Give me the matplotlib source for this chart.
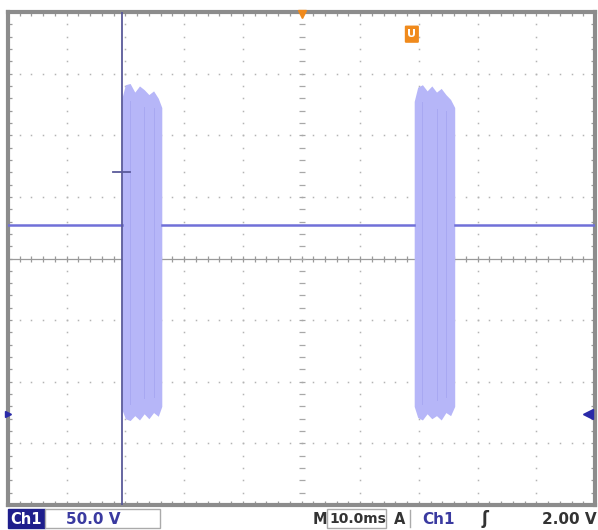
import matplotlib
matplotlib.use("Agg")
import matplotlib.pyplot as plt
import numpy as np
from matplotlib.patches import Rectangle, FancyBboxPatch

# ---- data (divisions) ----
baseline_t = [0.0, 1.94, np.nan, 2.62, 6.92, np.nan, 7.61, 10.0]
baseline_v = [0.55, 0.55, np.nan, 0.55, 0.55, np.nan, 0.55, 0.55]

burst1_t = [1.94, 2.00, 2.08, 2.16, 2.24, 2.32, 2.40, 2.48, 2.56, 2.62]
burst1_hi = [2.60, 2.82, 2.84, 2.70, 2.80, 2.74, 2.66, 2.72, 2.60, 2.45]
burst1_lo = [-2.45, -2.60, -2.63, -2.55, -2.62, -2.52, -2.60, -2.50, -2.56, -2.40]

burst2_t = [6.92, 6.98, 7.06, 7.14, 7.22, 7.30, 7.38, 7.46, 7.54, 7.61]
burst2_hi = [2.55, 2.78, 2.82, 2.72, 2.80, 2.70, 2.76, 2.66, 2.58, 2.45]
burst2_lo = [-2.40, -2.58, -2.62, -2.52, -2.60, -2.55, -2.62, -2.50, -2.55, -2.40]

cursor_t = 1.94
cursor_mark_v = 1.40
trigger_level = -2.52
trigger_pos = 5.0
u_marker = (6.88, 3.64)

ch_label = "Ch1"
volts_label = "50.0 V"
time_label = "10.0ms"
trig_label = "2.00 V"

W, H = 598, 530
fig = plt.figure(figsize=(W / 100, H / 100), dpi=100)
fig.patch.set_facecolor("white")
ax = fig.add_axes([8 / W, 25 / H, 587 / W, 493 / H])
ax.set_xlim(0, 10)
ax.set_ylim(-4, 4)
ax.set_facecolor("white")

grid_c = "#b4b4b4"
minor_x = np.arange(0, 10.001, 0.2)
minor_y = np.arange(-4, 4.001, 0.2)
for gx in range(1, 10):
    if gx == 5:
        continue
    ax.plot([gx] * len(minor_y), minor_y, ls="none", marker="s", ms=1.1, color=grid_c, mec="none")
for gy in range(-3, 4):
    if gy == 0:
        continue
    ax.plot(minor_x, [gy] * len(minor_x), ls="none", marker="s", ms=1.1, color=grid_c, mec="none")
# center crosshair
ax.axhline(0, color="#9a9a9a", lw=0.9, zorder=1)
ax.plot(minor_x, [0] * len(minor_x), ls="none", marker="|", ms=4, mew=0.9, color="#9a9a9a")
ax.plot([5] * len(minor_y), minor_y, ls="none", marker="_", ms=4, mew=0.9, color="#a8a8a8")

# bursts
burst_c = "#b6b6f8"
for t, hi, lo in [(burst1_t, burst1_hi, burst1_lo), (burst2_t, burst2_hi, burst2_lo)]:
    ax.fill_between(t, lo, hi, color=burst_c, lw=0, zorder=2)
    for i in (2, 5, 7):
        ax.plot([t[i], t[i]], [lo[i] * 0.9, hi[i] * 0.9], color="#a8a8f2", lw=0.7, zorder=2)

# baseline
ax.plot(baseline_t, baseline_v, color="#7070d8", lw=1.8, zorder=3)

# cursor
ax.axvline(cursor_t, color="#5a5a9a", lw=1.3, zorder=4)
ax.plot([cursor_t - 0.15, cursor_t + 0.14], [cursor_mark_v, cursor_mark_v], color="#5a5a9a", lw=1.3, zorder=4)

# frame
for s in ax.spines.values():
    s.set_color("#8c8c8c")
    s.set_linewidth(3)
ax.set_xticks(np.arange(0, 10.01, 1.0))
ax.set_yticks(np.arange(-4, 4.01, 1.0))
ax.set_xticks(minor_x, minor=True)
ax.set_yticks(minor_y, minor=True)
ax.tick_params(which="both", direction="in", length=3, width=0.9, colors="#9a9a9a",
               top=True, right=True, labelbottom=False, labelleft=False)

# markers
ax.plot([trigger_pos], [3.97], marker="v", ms=6, color="#f08a1c", clip_on=False, zorder=6)
ax.plot([9.88], [trigger_level], marker="<", ms=7, color="#2a2aa8", clip_on=False, zorder=6)
ax.plot([0.0], [trigger_level], marker=">", ms=4, color="#2a2aa8", clip_on=False, zorder=6)
ax.add_patch(FancyBboxPatch((u_marker[0] - 0.1, u_marker[1] - 0.12), 0.2, 0.24,
                            boxstyle="round,pad=0.02", fc="#f08a1c", ec="none", zorder=6))
ax.text(u_marker[0], u_marker[1], "U", ha="center", va="center", color="white",
        fontsize=8, fontweight="bold", zorder=7)

# bottom status bar
def px(x): return x / W
def py(y): return 1 - y / H
fs = 10.5
fig.patches.append(Rectangle((px(8), py(528)), px(37), 19 / H, transform=fig.transFigure,
                             fc="#1e1e8c", ec="#1e1e8c"))
fig.text(px(26), py(519), ch_label, ha="center", va="center", color="white", fontsize=fs, fontweight="bold")
fig.patches.append(Rectangle((px(45), py(528)), px(115), 19 / H, transform=fig.transFigure,
                             fc="white", ec="#aaaaaa", lw=1))
fig.text(px(66), py(519), volts_label, ha="left", va="center", color="#3a3aa0", fontsize=fs + 0.5, fontweight="bold")
fig.text(px(313), py(519), "M", ha="left", va="center", color="#333333", fontsize=fs, fontweight="bold")
fig.patches.append(Rectangle((px(327), py(528)), px(59), 19 / H, transform=fig.transFigure,
                             fc="none", ec="#aaaaaa", lw=1))
fig.text(px(329), py(519), time_label, ha="left", va="center", color="#333333", fontsize=fs - 0.5, fontweight="bold")
fig.text(px(394), py(519), "A", ha="left", va="center", color="#333333", fontsize=fs, fontweight="bold")
fig.lines.append(plt.Line2D([px(410), px(410)], [py(527), py(510)], transform=fig.transFigure, color="#aaaaaa", lw=1))
fig.text(px(422), py(519), ch_label, ha="left", va="center", color="#3a3aa0", fontsize=fs + 0.5, fontweight="bold")
fig.text(px(485), py(519), "ʃ", ha="center", va="center", color="#333333", fontsize=12, fontweight="bold")
fig.text(px(597), py(519), trig_label, ha="right", va="center", color="#333333", fontsize=fs + 0.5, fontweight="bold")

fig.savefig("out.png", dpi=100, facecolor="white")
